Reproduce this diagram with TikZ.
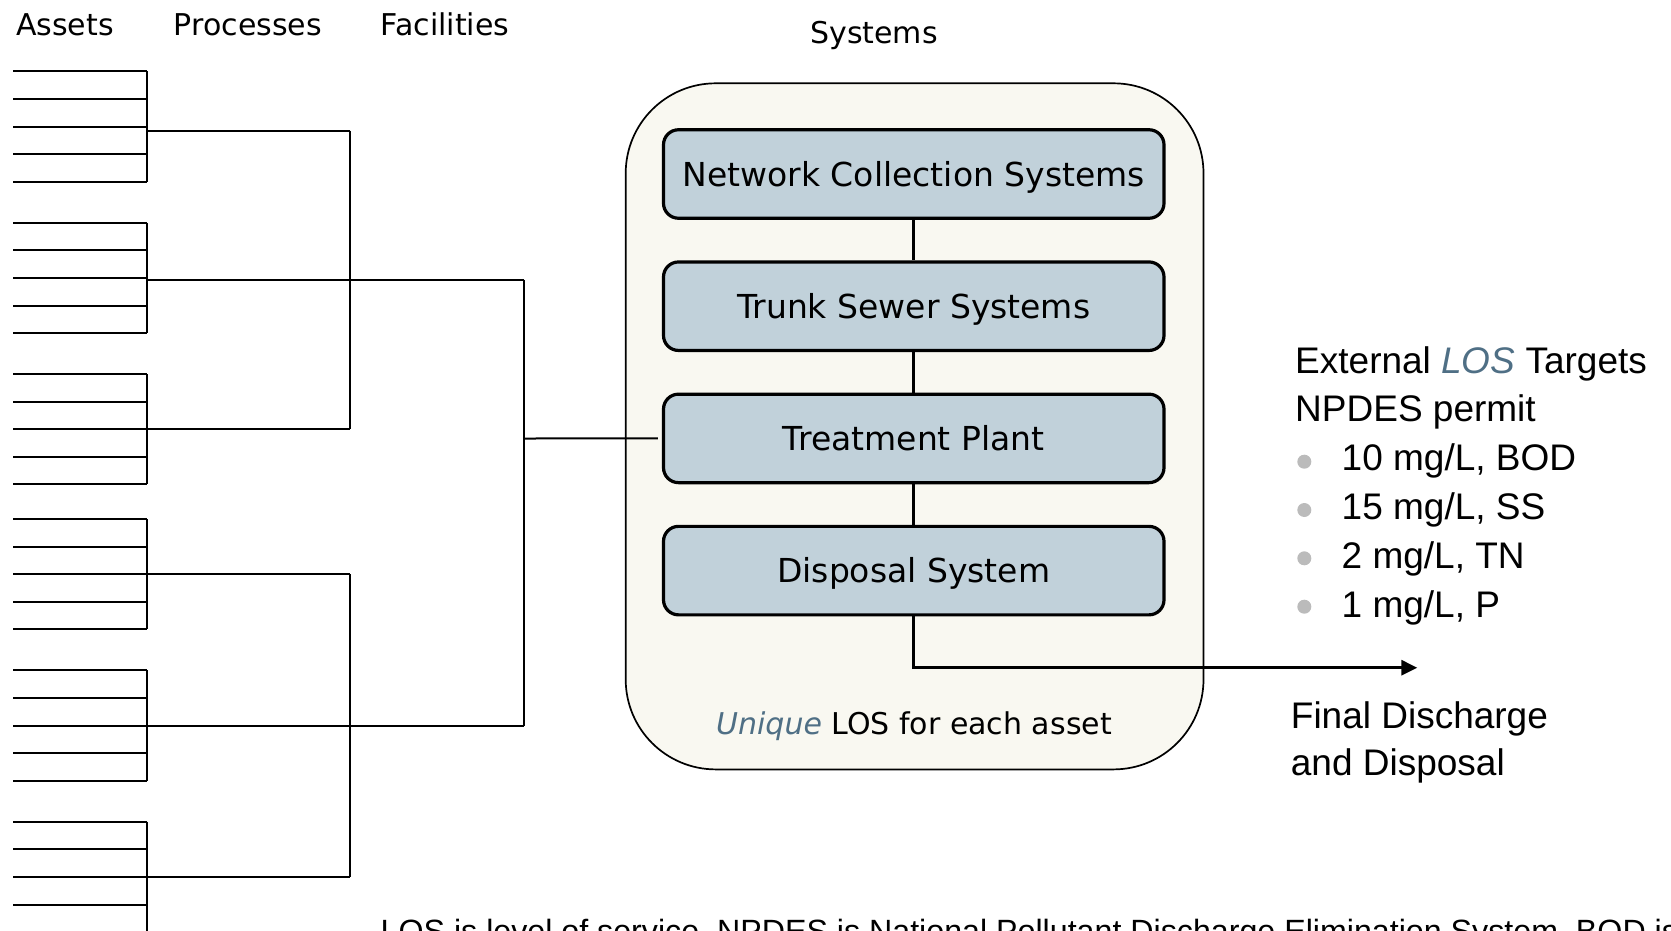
\documentclass[tikz,border=0pt]{standalone}
\usepackage{fontspec}
\setmainfont{DejaVu Sans}
\newfontfamily\arialf{Liberation Sans}
\usetikzlibrary{arrows.meta}
\definecolor{boxfill}{HTML}{C1D1DA}
\definecolor{bigfill}{HTML}{F9F8F1}
\definecolor{slate}{HTML}{4F6F85}
\definecolor{bulletgray}{HTML}{BBBBBB}
\begin{document}
\begin{tikzpicture}[x=1pt,y=-1pt,
  treeline/.style={line width=2pt, black},
  bigbox/.style={draw=black, line width=1.7pt, fill=bigfill, rounded corners=90pt,
    minimum width=577.8pt, minimum height=686.1pt, inner sep=0pt},
  sysbox/.style={draw=black, line width=3.2pt, fill=boxfill, rounded corners=15pt,
    minimum width=500.5pt, minimum height=88.5pt, inner sep=0pt,
    font=\fontsize{33}{40}\selectfont, text height=24pt, text depth=0pt},
  link/.style={line width=3pt, black},
  hdr/.style={font=\fontsize{30}{36}\selectfont, inner sep=0pt, anchor=base west},
  rt/.style={font=\arialf\fontsize{37}{44}\selectfont, inner sep=0pt, anchor=base west},
  note/.style={font=\arialf\fontsize{32.2}{40}\selectfont, inner sep=0pt, anchor=base west},
  bul/.style={circle, fill=bulletgray, minimum size=14pt, inner sep=0pt}]
\useasboundingbox (0,0) rectangle (1671,930);
\clip (0,0) rectangle (1671,930);

% headers
\node[hdr] (hA) at (16,35) {Assets};
\node[hdr] (hP) at (173.7,35) {Processes};
\node[hdr] (hF) at (380.5,35) {Facilities};
\node[hdr] (hS) at (810,43.7) {Systems};

% big systems box
\node[bigbox] (sys) at (914.6,426.35) {};

% asset tree
\foreach \g/\t/\p in {1/71.4/130.7, 2/222.7/279.5, 3/374/429, 4/519/574, 5/670.3/725.5, 6/821.7/876.7}{
  \foreach \i in {0,...,4}{
    \coordinate (a\g-\i) at (13,\t+\i*27.6);
    \coordinate (b\g-\i) at (146.5,\t+\i*27.6);
    \draw[treeline] (a\g-\i) -- (b\g-\i);
  }
  \coordinate (j\g) at (146.5,\p);
  \coordinate (k\g) at (350,\p);
  \draw[treeline] (b\g-0) -- (b\g-4);
  \draw[treeline] (j\g) -- (k\g);
}
\coordinate (b6-5) at (146.5,935);
\draw[treeline] (b6-4) -- (b6-5);
% process verticals
\draw[treeline] (k1) -- (k3);
\draw[treeline] (k4) -- (k6);
% facility level
\coordinate (f1) at (524,279.5);
\coordinate (f2) at (524,725.5);
\coordinate (fm) at (524,438.5);
\draw[treeline] (k2) -- (f1);
\draw[treeline] (k5) -- (f2);
\draw[treeline] (f1) -- (f2);

% system boxes
\node[sysbox] (ncs) at (913.75,174) {Network Collection Systems};
\node[sysbox] (tss) at (913.75,306.2) {Trunk Sewer Systems};
\node[sysbox] (tp)  at (913.75,438.4) {Treatment Plant};
\node[sysbox] (ds)  at (913.75,570.6) {Disposal System};

\draw[treeline] (fm) -- ([xshift=-4pt]tp.west);
\draw[link] (ncs) -- (tss);
\draw[link] (tss) -- (tp);
\draw[link] (tp) -- (ds);
\coordinate (out) at (1417.3,667.7);
\draw[link, -{Triangle[length=16pt,width=15pt]}] (ds.south) |- (out);

\node[font=\fontsize{30}{36}\selectfont, inner sep=0pt, anchor=base] (uniq) at (914,734)
  {\textcolor{slate}{\itshape Unique} LOS for each asset};

% right texts
\node[rt] (ext) at (1295,373.3) {External \textcolor{slate}{\itshape LOS} Targets};
\node[rt] (npd) at (1295,421.7) {NPDES permit};
\node[bul] (u1) at (1304.3,461.7) {};
\node[bul] (u2) at (1304.3,510) {};
\node[bul] (u3) at (1304.3,558.3) {};
\node[bul] (u4) at (1304.3,606.7) {};
\node[rt] (t1) at (1341.5,470) {10 mg/L, BOD};
\node[rt] (t2) at (1341.5,519.3) {15 mg/L, SS};
\node[rt] (t3) at (1341.5,568.3) {2 mg/L, TN};
\node[rt] (t4) at (1341.5,617.7) {1 mg/L, P};
\node[rt] (fd1) at (1290.7,728.3) {Final Discharge};
\node[rt] (fd2) at (1290.7,775) {and Disposal};

% footnote (cut off at the bottom, as in the reference)
\node[note] (fn) at (380.5,942.3) {LOS is level of service, NPDES is National Pollutant Discharge Elimination System, BOD is};
\end{tikzpicture}
\end{document}
